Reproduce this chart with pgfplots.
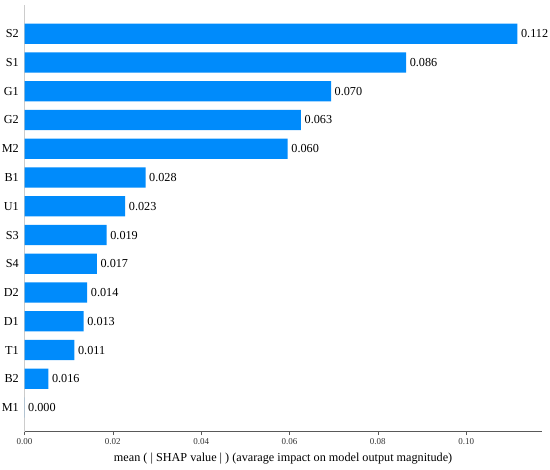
\documentclass[border=0pt]{standalone}
\usepackage{pgfplots}
\usepackage{pgfplotstable}
\pgfplotsset{compat=1.18}
\usepackage{fontspec}
\setmainfont{Liberation Serif}
\definecolor{shapblue}{RGB}{0,139,251}
\pgfplotstableread{
y val label
13 0.1116 0.112
12 0.0864 0.086
11 0.0694 0.070
10 0.0626 0.063
9 0.0596 0.060
8 0.0274 0.028
7 0.0228 0.023
6 0.0186 0.019
5 0.0164 0.017
4 0.0142 0.014
3 0.0134 0.013
2 0.0113 0.011
1 0.0054 0.016
0 0 0.000
}\shap
\begin{document}
\begin{tikzpicture}
\begin{axis}[
  scale only axis,
  width=517.2pt, height=426.7pt,
  xmin=0, xmax=0.1171,
  ymin=-0.84, ymax=14,
  axis x line*=bottom, axis y line*=left,
  x axis line style={draw=black!65, line width=0.8pt},
  y axis line style={draw=black!20, line width=0.8pt},
  xtick={0,0.02,0.04,0.06,0.08,0.10},
  scaled x ticks=false,
  x tick label style={font=\fontsize{9}{10}\selectfont, text=black!80,
    /pgf/number format/fixed, /pgf/number format/fixed zerofill, /pgf/number format/precision=2},
  /pgf/number format/assume math mode=true,
  tick align=outside,
  major tick length=3.5pt,
  x tick style={draw=black!65, line width=0.6pt},
  ytick={0,...,13},
  yticklabels={M1,B2,T1,D1,D2,S4,S3,U1,B1,M2,G2,G1,S1,S2},
  y tick style={draw=none},
  y tick label style={font=\fontsize{12.2}{14}\selectfont, text=black, inner xsep=2pt},
  xlabel={mean ( | SHAP value | ) (avarage impact on model output magnitude)},
  xlabel style={font=\fontsize{12.2}{14}\selectfont, yshift=-1pt},
  clip=false,
]
\addplot[xbar, bar width=0.7, fill=shapblue, draw=none,
  nodes near coords, point meta=explicit symbolic,
  every node near coord/.append style={font=\fontsize{12.2}{14}\selectfont, text=black, anchor=west, inner xsep=0pt, xshift=3.5pt}]
  table[x=val, y=y, meta=label] {\shap};
\end{axis}
\pgfresetboundingbox
\useasboundingbox ([shift={(-24.5pt,-37.3pt)}]current axis.south west) rectangle ([shift={(8.3pt,5pt)}]current axis.north east);
\end{tikzpicture}
\end{document}
